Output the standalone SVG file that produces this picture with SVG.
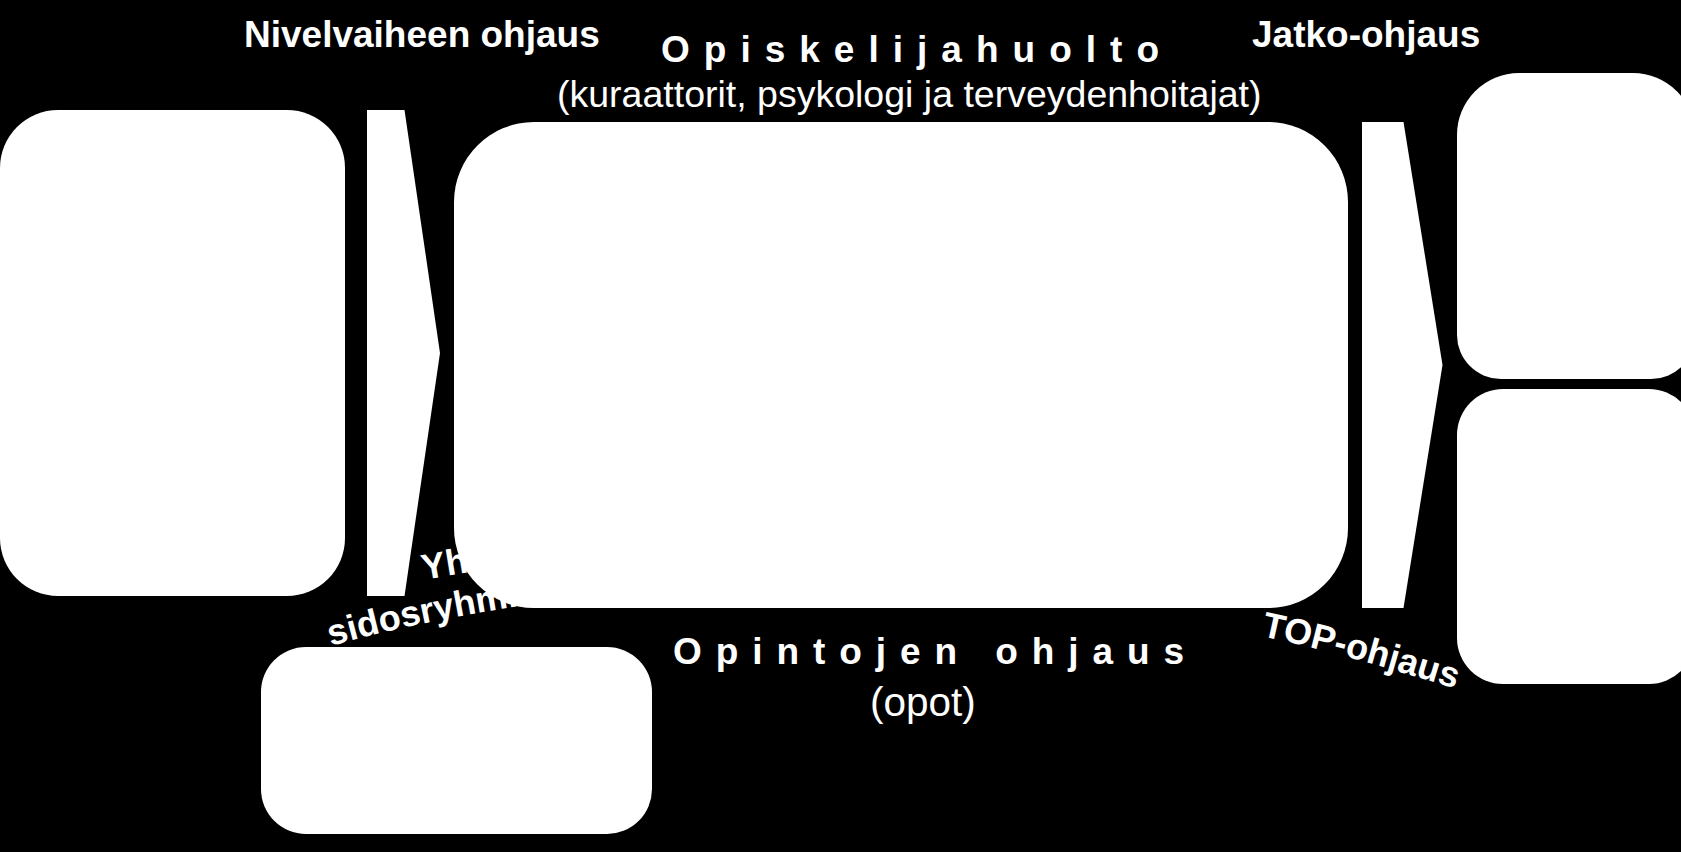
<svg xmlns="http://www.w3.org/2000/svg" xmlns:xlink="http://www.w3.org/1999/xlink" width="1681" height="852" viewBox="0 0 1681 852">
  <style>
    .box { fill: #ffffff; stroke: none; }
    .arrow { fill: #ffffff; stroke: none; }
    .t { fill: #ffffff; font-family: "Liberation Sans", Arial, sans-serif; }
    .b { font-weight: bold; font-size: 37px; }
    .r { font-weight: normal; font-size: 37.5px; }
    .arc { font-weight: bold; font-size: 36px; }
    .pre { white-space: pre; }
  </style>
  <defs>
    <path id="arcYh" d="M 424 580 Q 505 565 605 555"/>
    <path id="arcSidos" d="M 331 646 Q 425 619 560 600"/>
    <path id="arcTop" d="M 1261 636 Q 1350 655 1472 694"/>
  </defs>
  <rect x="0" y="0" width="1681" height="852" fill="#000000"/>

  <g id="label-yhteistyo">
    <text class="t arc"><textPath xlink:href="#arcYh" href="#arcYh">Yh</textPath></text>
    <text class="t arc"><textPath xlink:href="#arcSidos" href="#arcSidos">sidosryhmie</textPath></text>
  </g>

  <g id="node-left">
    <rect class="box" x="0" y="110" width="345" height="486" rx="58" ry="58"/>
  </g>

  <g id="node-main">
    <rect class="box" x="454" y="122" width="894" height="486" rx="80" ry="80"/>
  </g>

  <g id="node-bottom">
    <rect class="box" x="261" y="647" width="391" height="187" rx="45" ry="45"/>
  </g>

  <g id="node-right-top">
    <path class="box" d="M 1519 73 H 1633 A 62 62 0 0 1 1695 135 V 335 A 44 44 0 0 1 1651 379 H 1501 A 44 44 0 0 1 1457 335 V 135 A 62 62 0 0 1 1519 73 Z"/>
  </g>

  <g id="node-right-bottom">
    <rect class="box" x="1457" y="389" width="238" height="295" rx="46" ry="46"/>
  </g>

  <g id="connectors">
    <polygon class="arrow" points="367,110 404.5,110 440,353 404.5,596 367,596"/>
    <polygon class="arrow" points="1362,122 1403.5,122 1442.5,365 1403.5,608 1362,608"/>
  </g>

  <g id="label-nivelvaihe">
    <text class="t b" x="244" y="47">Nivelvaiheen ohjaus</text>
  </g>

  <g id="label-opiskelijahuolto">
    <text class="t b pre" x="661" y="62" textLength="498" lengthAdjust="spacing">O p i s k e l i j a h u o l t o</text>
    <text class="t r" x="557" y="107">(kuraattorit, psykologi ja terveydenhoitajat)</text>
  </g>

  <g id="label-jatko">
    <text class="t b" x="1252" y="47">Jatko-ohjaus</text>
  </g>

  <g id="label-opinto">
    <text class="t b pre" x="673" y="664" textLength="511" lengthAdjust="spacing">O p i n t o j e n   o h j a u s</text>
    <text class="t r" x="870" y="716" style="font-size:40.5px">(opot)</text>
  </g>

  <g id="label-top">
    <text class="t arc"><textPath xlink:href="#arcTop" href="#arcTop">TOP-ohjaus</textPath></text>
  </g>
</svg>
